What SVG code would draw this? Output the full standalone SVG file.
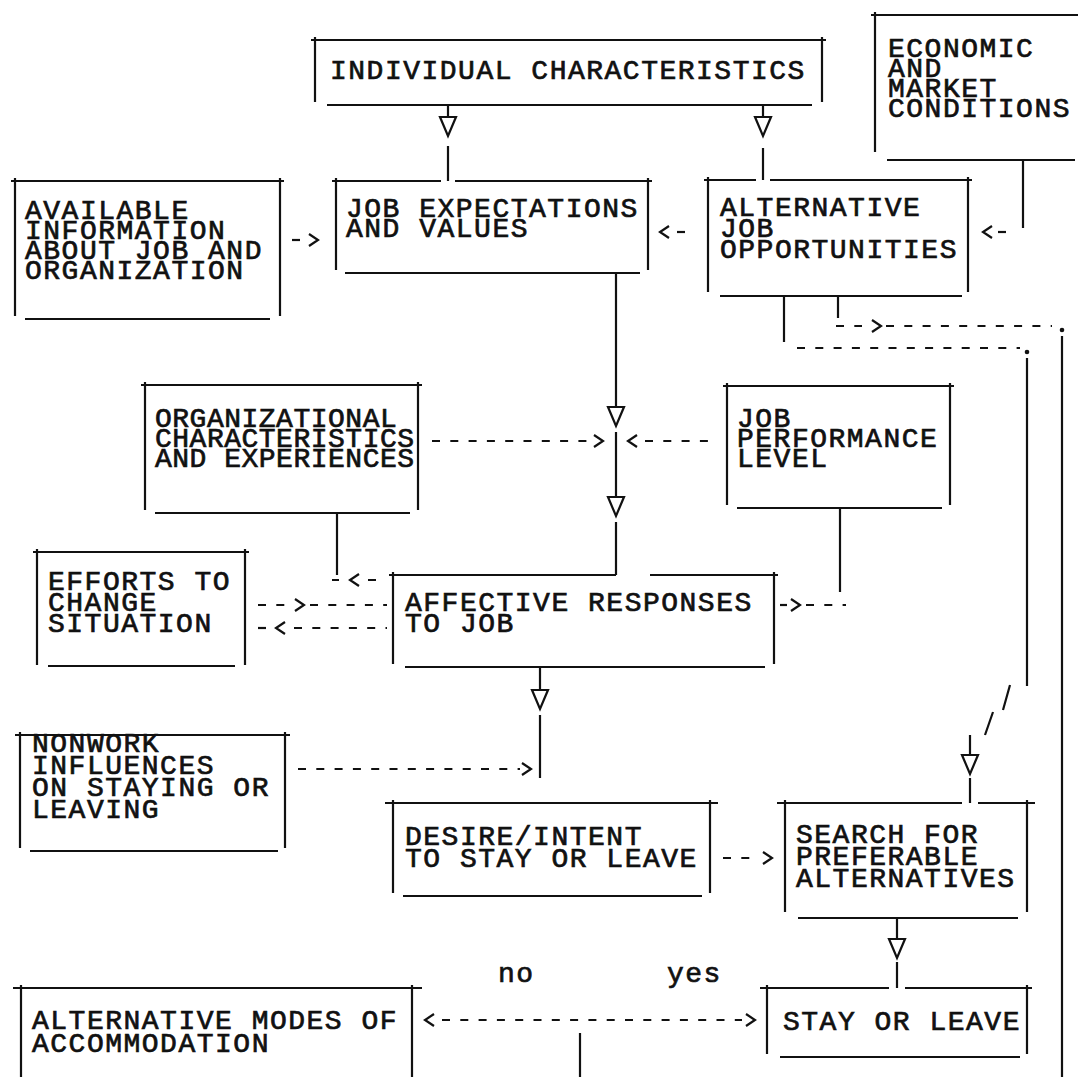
<svg xmlns="http://www.w3.org/2000/svg" xmlns:xlink="http://www.w3.org/1999/xlink" width="1078" height="1077" viewBox="0 0 1078 1077">
<style>
  .frame { fill: none; stroke: #111; stroke-width: 2.2; stroke-linecap: butt; }
  .t { font-family: "Liberation Mono", "Courier New", monospace; font-size: 28px; letter-spacing: 1.5px; fill: #111; stroke: #111; stroke-width: 0.7px; }
  .tn { letter-spacing: 0.5px; }
  .ln { fill: none; stroke: #111; stroke-width: 2.2; }
  .dsh { fill: none; stroke: #111; stroke-width: 2.2; stroke-dasharray: 8 10.3; }
  .chev { fill: none; stroke: #111; stroke-width: 2.2; stroke-linejoin: miter; }
  .tri { fill: #fff; stroke: #111; stroke-width: 2.2; stroke-linejoin: miter; }
  .dot { fill: #111; }
</style>
<defs>
  <path id="tri" d="M-8,0H8L0,19Z" class="tri"/>
  <path id="chevR" d="M-4,-6L5,0L-4,6" class="chev"/>
  <path id="chevL" d="M4,-6L-5,0L4,6" class="chev"/>
</defs>
<rect width="1078" height="1077" fill="#fff"/>

<g id="individual">
  <path class="frame" d="M311,40H826 M315,37V102 M822,37V102 M327,105H812"/>
  <text class="t" x="330" y="79">INDIVIDUAL CHARACTERISTICS</text>
</g>
<g id="economic">
  <path class="frame" d="M871,15H1078 M875,12V152 M887,160H1075"/>
  <text class="t" x="888" y="57">ECONOMIC</text>
  <text class="t" x="888" y="77">AND</text>
  <text class="t" x="888" y="97">MARKET</text>
  <text class="t" x="888" y="117">CONDITIONS</text>
</g>
<g id="available">
  <path class="frame" d="M11,181H284 M15,178V316 M280,178V316 M25,319H270"/>
  <text class="t" x="25" y="219">AVAILABLE</text>
  <text class="t" x="25" y="239">INFORMATION</text>
  <text class="t" x="25" y="259">ABOUT JOB AND</text>
  <text class="t" x="25" y="279">ORGANIZATION</text>
</g>
<g id="jobexp">
  <path class="frame" d="M332,181H441 M455,181H652 M336,178V270 M648,178V270 M345,273H640"/>
  <text class="t" x="346" y="217">JOB EXPECTATIONS</text>
  <text class="t" x="346" y="237">AND VALUES</text>
</g>
<g id="altjob">
  <path class="frame" d="M704,180H756 M770,180H972 M708,177V292 M968,177V292 M720,296H962"/>
  <text class="t" x="720" y="216">ALTERNATIVE</text>
  <text class="t" x="720" y="237">JOB</text>
  <text class="t" x="720" y="258">OPPORTUNITIES</text>
</g>
<g id="orgchar">
  <path class="frame" d="M141,385H422 M145,382V510 M418,382V510 M155,513H410"/>
  <text class="t tn" x="155" y="427">ORGANIZATIONAL</text>
  <text class="t tn" x="155" y="447">CHARACTERISTICS</text>
  <text class="t tn" x="155" y="467">AND EXPERIENCES</text>
</g>
<g id="jobperf">
  <path class="frame" d="M723,386H954 M727,383V505 M950,383V505 M737,508H942"/>
  <text class="t" x="737" y="427">JOB</text>
  <text class="t" x="737" y="447">PERFORMANCE</text>
  <text class="t" x="737" y="467">LEVEL</text>
</g>
<g id="efforts">
  <path class="frame" d="M33,552H249 M37,549V665 M245,549V665 M48,666H235"/>
  <text class="t" x="48" y="590">EFFORTS TO</text>
  <text class="t" x="48" y="611">CHANGE</text>
  <text class="t" x="48" y="632">SITUATION</text>
</g>
<g id="affective">
  <path class="frame" d="M389,575H616 M650,575H778 M393,572V664 M774,572V664 M405,667H765"/>
  <text class="t" x="405" y="611">AFFECTIVE RESPONSES</text>
  <text class="t" x="405" y="632">TO JOB</text>
</g>
<g id="nonwork">
  <text class="t" x="32" y="752">NONWORK</text>
  <text class="t" x="32" y="774">INFLUENCES</text>
  <text class="t" x="32" y="796">ON STAYING OR</text>
  <text class="t" x="32" y="818">LEAVING</text>
  <path class="frame" d="M15,735H290 M20,732V848 M285,732V848 M30,851H278"/>
</g>
<g id="desire">
  <path class="frame" d="M385,803H718 M393,800V893 M710,800V893 M403,896H702"/>
  <text class="t" x="405" y="845">DESIRE/INTENT</text>
  <text class="t" x="405" y="867">TO STAY OR LEAVE</text>
</g>
<g id="search">
  <path class="frame" d="M777,803H962 M978,803H1035 M785,800V912 M1027,800V912 M798,918H1018"/>
  <text class="t" x="796" y="843">SEARCH FOR</text>
  <text class="t" x="796" y="865">PREFERABLE</text>
  <text class="t" x="796" y="887">ALTERNATIVES</text>
</g>
<g id="altmodes">
  <path class="frame" d="M13,988H422 M21,985V1077 M412,985V1077"/>
  <text class="t" x="32" y="1029">ALTERNATIVE MODES OF</text>
  <text class="t" x="32" y="1052">ACCOMMODATION</text>
</g>
<g id="stayleave">
  <path class="frame" d="M760,988H889 M905,988H1032 M767,985V1054 M1027,985V1054 M780,1057H1020"/>
  <text class="t" x="783" y="1030">STAY OR LEAVE</text>
</g>

<g id="connectors">
  <path class="ln" d="M448,105V117 M448,146V181"/>
  <use xlink:href="#tri" href="#tri" x="448" y="117"/>
  <path class="ln" d="M763,105V117 M763,148V180"/>
  <use xlink:href="#tri" href="#tri" x="763" y="117"/>
  <path class="ln" d="M292,240H300"/>
  <use xlink:href="#chevR" href="#chevR" x="313" y="240"/>
  <use xlink:href="#chevL" href="#chevL" x="665" y="232"/>
  <path class="ln" d="M677,232H685"/>
  <path class="ln" d="M1023,160V228"/>
  <use xlink:href="#chevL" href="#chevL" x="988" y="232"/>
  <path class="ln" d="M998,232H1006"/>
  <path class="ln" d="M784,296V342"/>
  <path class="dsh" d="M797,348H1020"/>
  <circle class="dot" cx="1027" cy="352" r="2.3"/>
  <path class="ln" d="M1027,358V686"/>
  <path class="ln" d="M1010,685L1003,710 M993,712L985,735"/>
  <path class="ln" d="M970,735V755 M970,778V803"/>
  <use xlink:href="#tri" href="#tri" x="970" y="755"/>
  <path class="ln" d="M838,296V318"/>
  <path class="dsh" d="M836,326H862 M886,326H1052"/>
  <use xlink:href="#chevR" href="#chevR" x="876" y="326"/>
  <circle class="dot" cx="1062" cy="330" r="2.3"/>
  <path class="ln" d="M1062,336V1077"/>
  <path class="ln" d="M616,273V407 M616,432V497 M616,522V575"/>
  <use xlink:href="#tri" href="#tri" x="616" y="407"/>
  <use xlink:href="#tri" href="#tri" x="616" y="497"/>
  <path class="dsh" d="M432,441H590"/>
  <use xlink:href="#chevR" href="#chevR" x="598" y="441"/>
  <use xlink:href="#chevL" href="#chevL" x="633" y="441"/>
  <path class="dsh" d="M645,441H712"/>
  <path class="ln" d="M780,605H787"/>
  <use xlink:href="#chevR" href="#chevR" x="795" y="605"/>
  <path class="dsh" d="M806,605H846"/>
  <path class="ln" d="M840,508V592"/>
  <path class="ln" d="M337,513V575"/>
  <path class="ln" d="M332,580H339 M368,580H376"/>
  <use xlink:href="#chevL" href="#chevL" x="355" y="580"/>
  <path class="dsh" d="M258,605H288 M310,605H387"/>
  <use xlink:href="#chevR" href="#chevR" x="299" y="605"/>
  <path class="ln" d="M258,628H266"/>
  <use xlink:href="#chevL" href="#chevL" x="281" y="628"/>
  <path class="dsh" d="M294,628H387"/>
  <path class="ln" d="M540,667V690 M540,715V778"/>
  <use xlink:href="#tri" href="#tri" x="540" y="690"/>
  <path class="dsh" d="M298,769H520"/>
  <use xlink:href="#chevR" href="#chevR" x="526" y="769"/>
  <path class="dsh" d="M723,858H757"/>
  <use xlink:href="#chevR" href="#chevR" x="767" y="858"/>
  <path class="ln" d="M897,918V939 M897,962V988"/>
  <use xlink:href="#tri" href="#tri" x="897" y="939"/>
  <use xlink:href="#chevL" href="#chevL" x="430" y="1020"/>
  <path class="dsh" d="M442,1020H742"/>
  <use xlink:href="#chevR" href="#chevR" x="750" y="1020"/>
  <path class="ln" d="M580,1033V1077"/>
  <text class="t" x="498" y="982">no</text>
  <text class="t" x="667" y="982">yes</text>
</g>
</svg>
